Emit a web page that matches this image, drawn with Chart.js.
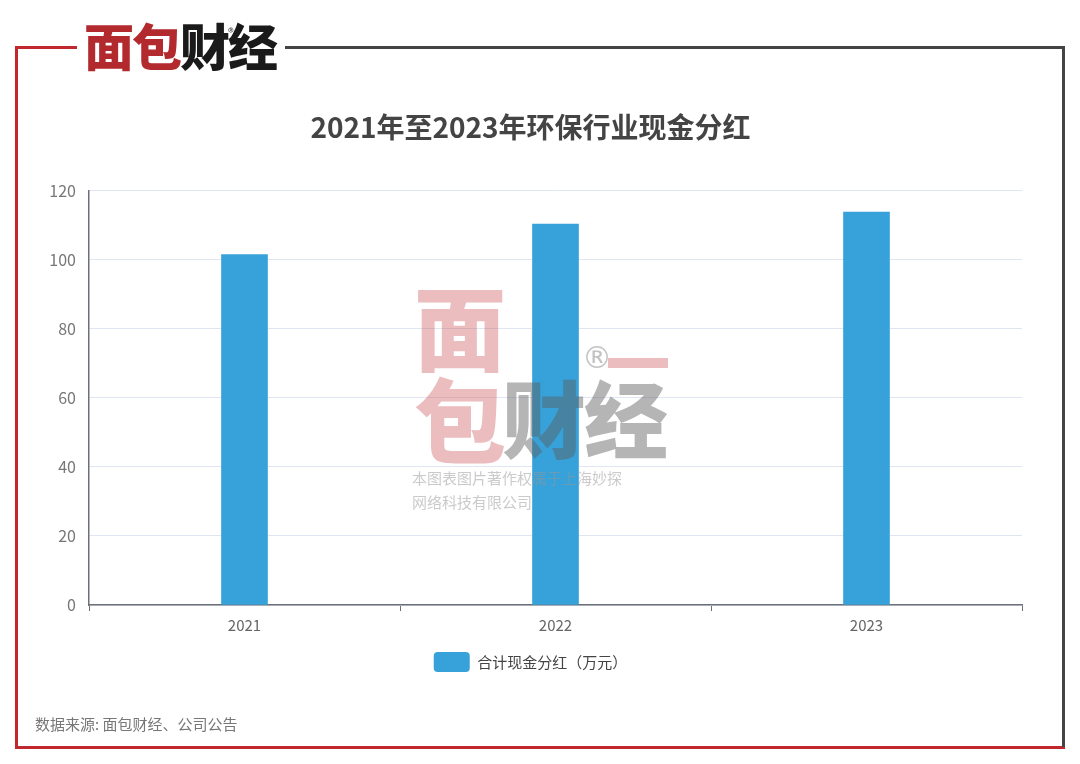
<!DOCTYPE html>
<html lang="zh">
<head>
  <meta charset="UTF-8">
  <title>2021年至2023年环保行业现金分红</title>
  <script src="https://cdn.jsdelivr.net/npm/chart.js"></script>
  <style>
    html, body { margin: 0; padding: 0; background: #fff; }
    body { width: 1080px; height: 764px; position: relative; overflow: hidden;
      font-family: "Noto Sans CJK SC", "Noto Sans", sans-serif; }
    #chart { position: absolute; left: 0; top: 0; }
    .line { position: absolute; }
    .logo { position: absolute; left: 80px; top: 14px; font-size: 50px; font-weight: 900;
      letter-spacing: -2px; line-height: 60px; background: #fff; padding: 0 4px; }
    .logo .r { color: #b22a2e; }
    .logo .k { color: #1a1a1a; }
    .logo sup { position: absolute; left: 148px; top: -12px; font-size: 12px; font-weight: 400; color: #444; }
    .source { position: absolute; left: 35px; top: 713px; font-size: 15px; color: #777; }
    .wm { position: absolute; left: 412px; top: 274px; pointer-events: none; }
    .wm .ch { position: absolute; font-weight: 900; line-height: 1; }
    .wm .pink { color: rgba(205, 90, 95, 0.4); font-size: 92px; left: 2px; }
    .wm .gray { color: rgba(90, 90, 90, 0.45); font-size: 84px; top: 100px; }
    .wm .reg { position: absolute; left: 170px; top: 66px; font-size: 30px; color: rgba(120,120,120,0.45); font-family: "DejaVu Sans", sans-serif; }
    .wm .bar { position: absolute; left: 196px; top: 84px; width: 60px; height: 10px; background: rgba(205, 90, 95, 0.4); }
    .wm .txt { position: absolute; left: 0; top: 192px; font-size: 15px; line-height: 24px;
      color: rgba(150,150,150,0.5); width: 260px; }
  </style>
</head>
<body>
  <canvas id="chart" width="1080" height="764"></canvas>

  <!-- frame -->
  <div class="line" style="left:15px; top:46px; width:3px; height:703px; background:#c0282e;"></div>
  <div class="line" style="left:15px; top:746px; width:1050px; height:3px; background:#c0282e;"></div>
  <div class="line" style="left:15px; top:46px; width:62px; height:3px; background:#c0282e;"></div>
  <div class="line" style="left:285px; top:46px; width:780px; height:3px; background:#444;"></div>
  <div class="line" style="left:1062px; top:46px; width:3px; height:701px; background:#444;"></div>

  <div class="logo"><span class="r">面包</span><span class="k">财经</span><sup>®</sup></div>

  <div class="wm">
    <div class="ch pink" style="top:4px;">面</div>
    <div class="ch pink" style="top:96px;">包</div>
    <div class="reg">®</div>
    <div class="bar"></div>
    <div class="ch gray" style="left:90px;">财</div>
    <div class="ch gray" style="left:172px;">经</div>
    <div class="txt">本图表图片著作权属于上海妙探<br>网络科技有限公司</div>
  </div>

  <div class="source">数据来源: 面包财经、公司公告</div>

  <script>
    const years = ['2021', '2022', '2023'];
    const cashDividend = [101.5, 110.3, 113.8];
    const seriesName = '合计现金分红（万元）';
    const chartTitle = '2021年至2023年环保行业现金分红';

    const fontFamily = '"Noto Sans CJK SC", "Noto Sans", sans-serif';
    const axisColor = '#6e7079';

    new Chart(document.getElementById('chart'), {
      type: 'bar',
      data: {
        labels: years,
        datasets: [{
          label: seriesName,
          data: cashDividend,
          backgroundColor: '#37a2da',
          borderWidth: 0,
          barThickness: 46
        }]
      },
      options: {
        responsive: false,
        animation: false,
        layout: { padding: { left: 39, right: 58, top: 0, bottom: 82 } },
        plugins: {
          title: {
            display: true,
            text: chartTitle,
            color: '#444',
            font: { family: fontFamily, size: 28, weight: 'bold' },
            padding: { top: 111, bottom: 46 }
          },
          legend: {
            position: 'bottom',
            labels: {
              boxWidth: 36,
              boxHeight: 20,
              useBorderRadius: true,
              borderRadius: 4,
              color: '#444',
              font: { family: fontFamily, size: 15 },
              padding: 10
            }
          },
          tooltip: { enabled: false }
        },
        scales: {
          x: {
            grid: {
              display: true,
              drawOnChartArea: false,
              drawTicks: true,
              tickLength: 6,
              color: axisColor
            },
            border: { display: true, color: axisColor, width: 1.5 },
            ticks: { color: '#666', font: { family: fontFamily, size: 15 }, padding: 5 },
            afterFit: (s) => { s.height = 37; }
          },
          y: {
            min: 0,
            max: 120,
            ticks: { stepSize: 20, color: '#777', font: { family: fontFamily, size: 16 }, padding: 13 },
            grid: { color: '#e0e6f1', drawTicks: false },
            border: { display: true, color: axisColor, width: 1.5 },
            afterFit: (s) => { s.width = 50; }
          }
        }
      }
    });
  </script>
</body>
</html>
